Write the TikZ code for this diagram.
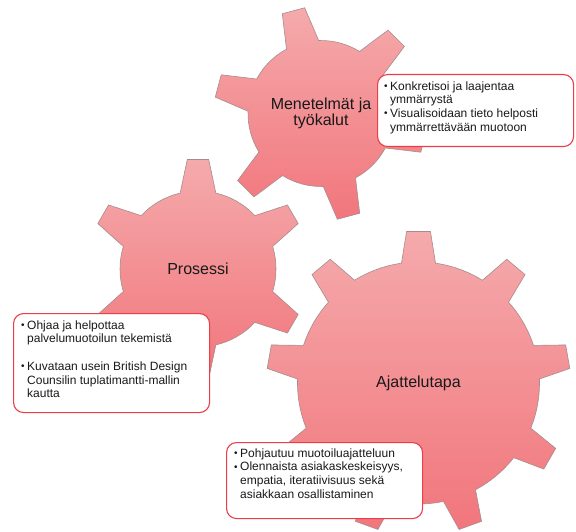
\documentclass[tikz,border=0pt]{standalone}
\usepackage{fontspec}
\setmainfont{Liberation Sans}
\usetikzlibrary{calc}

\definecolor{gearlight}{RGB}{245,170,172}
\definecolor{geardark}{RGB}{241,118,124}
\definecolor{gearline}{RGB}{165,140,140}
\definecolor{boxline}{RGB}{235,62,72}
\definecolor{ink}{RGB}{25,25,25}

% Gear outline: #1 centre, #2 number of teeth, #3 angle of the first tooth,
% #4 body radius, #5 tip radius, #6 half-angle at the root, #7 half-angle at the tip
\newcommand{\drawgear}[7]{%
  \begin{scope}[shift={#1}]
    \path[gearbody] ({#3-#6}:#4)
      \foreach \k in {1,...,#2} {
        -- ({#3+(\k-1)*360/#2-#7}:#5)
        -- ({#3+(\k-1)*360/#2+#7}:#5)
        -- ({#3+(\k-1)*360/#2+#6}:#4)
        arc[start angle={#3+(\k-1)*360/#2+#6}, end angle={#3+\k*360/#2-#6}, radius=#4]
      } -- cycle;
  \end{scope}}

% bullet with hanging indent for the call-out lists
\newcommand{\bul}{\rule{0pt}{10pt}\makebox[6pt][l]{\raisebox{0.6pt}{\fontsize{10}{10}\selectfont\textbullet}}}
\newcommand{\ind}{\hspace*{6pt}}

\begin{document}
\begin{tikzpicture}[x=1pt, y=-1pt,
  gearbody/.style={top color=gearlight, bottom color=geardark,
    draw=gearline, line width=0.6pt, line join=miter},
  gearlabel/.style={inner sep=0pt, align=center, text=ink,
    font=\fontsize{16}{16}\selectfont},
  infobox/.style={draw=boxline, line width=1.1pt, fill=white,
    rounded corners=10pt, anchor=north west, inner sep=0pt},
  boxtext/.style={anchor=north west, align=left, inner sep=0pt, text=ink,
    font=\fontsize{12}{13.7}\selectfont}]
\useasboundingbox (0,0) rectangle (576,532);

% the three gears
\drawgear{(321,113.5)}{6}{-105}{73}{107}{13.2}{6.2}
\drawgear{(198,269)}{6}{-90}{78}{110}{13.2}{5.6}
\drawgear{(418.5,383)}{9}{-90}{121}{152}{8.1}{4.5}

% gear titles
\node[gearlabel] (menetelmat) at (321,113.5) {Menetelmät ja\\työkalut};
\node[gearlabel] (prosessi) at (198,269) {Prosessi};
\node[gearlabel] (ajattelu) at (418.5,383) {Ajattelutapa};

% call-out boxes
\node[infobox, minimum width=196pt, minimum height=72pt] (box1) at (377,74) {};
\node[boxtext] (text1) at ($(box1.north west)+(7,6)$)
  {\bul Konkretisoi ja laajentaa\\\ind ymmärrystä\\
   \bul Visualisoidaan tieto helposti\\\ind ymmärrettävään muotoon};

\node[infobox, minimum width=196pt, minimum height=99pt] (box2) at (13,313) {};
\node[boxtext] (text2) at ($(box2.north west)+(8,6)$)
  {\bul Ohjaa ja helpottaa\\\ind palvelumuotoilun tekemistä\\[13.7pt]
   \bul Kuvataan usein British Design\\\ind Counsilin tuplatimantti-mallin\\\ind kautta};

\node[infobox, minimum width=196pt, minimum height=76pt] (box3) at (226,442) {};
\node[boxtext] (text3) at ($(box3.north west)+(8,5)$)
  {\bul Pohjautuu muotoiluajatteluun\\
   \bul Olennaista asiakaskeskeisyys,\\\ind empatia, iteratiivisuus sekä\\\ind asiakkaan osallistaminen};
\end{tikzpicture}
\end{document}
